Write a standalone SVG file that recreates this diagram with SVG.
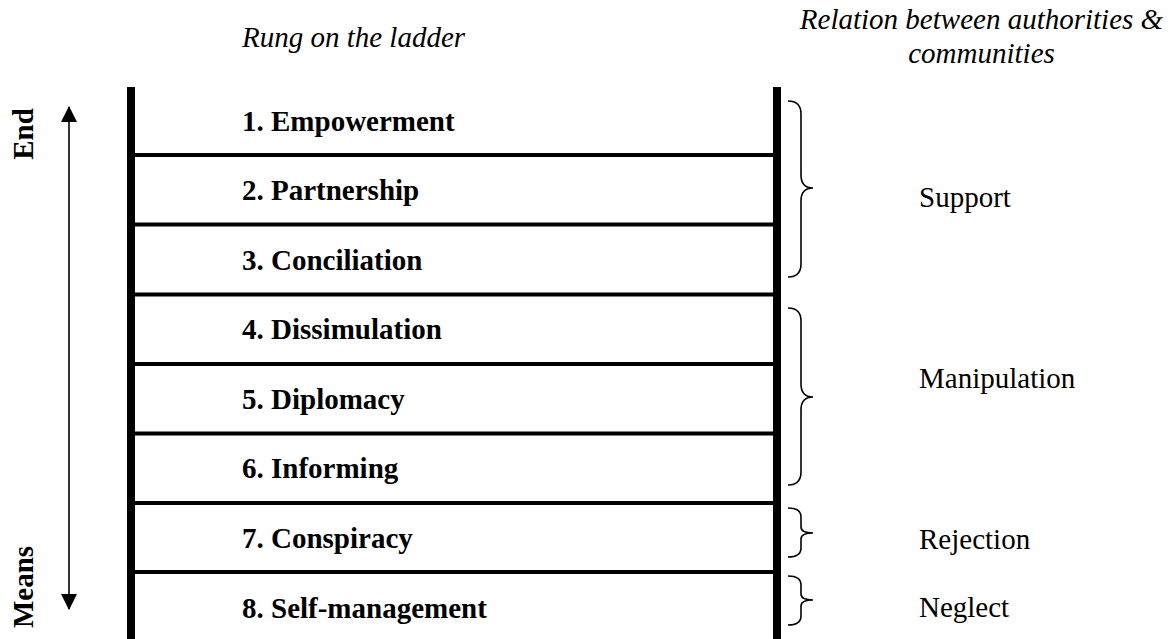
<svg xmlns="http://www.w3.org/2000/svg" width="1172" height="639" viewBox="0 0 1172 639">
<style>
.t{font-family:"Liberation Serif","Times New Roman",serif;font-size:29px;fill:#000}
.b{font-weight:bold}
.i{font-style:italic}
.rail{stroke:#000;stroke-width:8;fill:none}
.rung{stroke:#000;stroke-width:4;fill:none}
.brace{stroke:#000;stroke-width:1.6;fill:none}
.arr{stroke:#000;stroke-width:1.6;fill:none}
</style>
<defs>
<marker id="ah" viewBox="0 0 16 16" refX="15" refY="8" markerWidth="16" markerHeight="16" markerUnits="userSpaceOnUse" orient="auto">
<path d="M0,0 L16,8 L0,16 Z" fill="#000"/>
</marker>
</defs>
<rect width="1172" height="639" fill="#fff"/>
<g id="headers">
<text class="t i" x="353.5" y="47" text-anchor="middle">Rung on the ladder</text>
<text class="t i" x="981.5" y="29" text-anchor="middle">Relation between authorities &amp;</text>
<text class="t i" x="981.5" y="63" text-anchor="middle">communities</text>
</g>
<g id="axis">
<text class="t b" x="33" y="134" text-anchor="middle" transform="rotate(-90 33 134)">End</text>
<text class="t b" x="33" y="587" text-anchor="middle" transform="rotate(-90 33 587)">Means</text>
</g>
<g id="connectors">
<line class="arr" x1="69" y1="358" x2="69" y2="107" marker-end="url(#ah)"/>
<line class="arr" x1="69" y1="358" x2="69" y2="609" marker-end="url(#ah)"/>
<path class="brace" d="M788,101 Q801,101 801,114 L801,175 Q801,188 813,188 Q801,188 801,201 L801,264 Q801,277 788,277"/>
<path class="brace" d="M788,308 Q801,308 801,321 L801,384 Q801,397 813,397 Q801,397 801,410 L801,472 Q801,485 788,485"/>
<path class="brace" d="M788,508 Q801,508 801,517 L801,527 Q801,533 813,533 Q801,533 801,539 L801,548 Q801,557 788,557"/>
<path class="brace" d="M788,576 Q801,576 801,585 L801,594 Q801,600 813,600 Q801,600 801,606 L801,616 Q801,625 788,625"/>
</g>
<g id="ladder">
<line class="rail" x1="131" y1="87" x2="131" y2="639"/>
<line class="rail" x1="777" y1="87" x2="777" y2="639"/>
<line class="rung" x1="131" y1="155" x2="777" y2="155"/>
<line class="rung" x1="131" y1="224.5" x2="777" y2="224.5"/>
<line class="rung" x1="131" y1="294.5" x2="777" y2="294.5"/>
<line class="rung" x1="131" y1="364" x2="777" y2="364"/>
<line class="rung" x1="131" y1="433.5" x2="777" y2="433.5"/>
<line class="rung" x1="131" y1="503" x2="777" y2="503"/>
<line class="rung" x1="131" y1="572" x2="777" y2="572"/>
</g>
<g id="rung1"><text class="t b" x="242" y="131">1. Empowerment</text></g>
<g id="rung2"><text class="t b" x="242" y="200">2. Partnership</text></g>
<g id="rung3"><text class="t b" x="242" y="270">3. Conciliation</text></g>
<g id="rung4"><text class="t b" x="242" y="339">4. Dissimulation</text></g>
<g id="rung5"><text class="t b" x="242" y="409">5. Diplomacy</text></g>
<g id="rung6"><text class="t b" x="242" y="478">6. Informing</text></g>
<g id="rung7"><text class="t b" x="242" y="548">7. Conspiracy</text></g>
<g id="rung8"><text class="t b" x="242" y="618">8. Self-management</text></g>
<g id="relations">
<text class="t" x="919" y="207">Support</text>
<text class="t" x="919" y="388">Manipulation</text>
<text class="t" x="919" y="549">Rejection</text>
<text class="t" x="919" y="617">Neglect</text>
</g>
</svg>
